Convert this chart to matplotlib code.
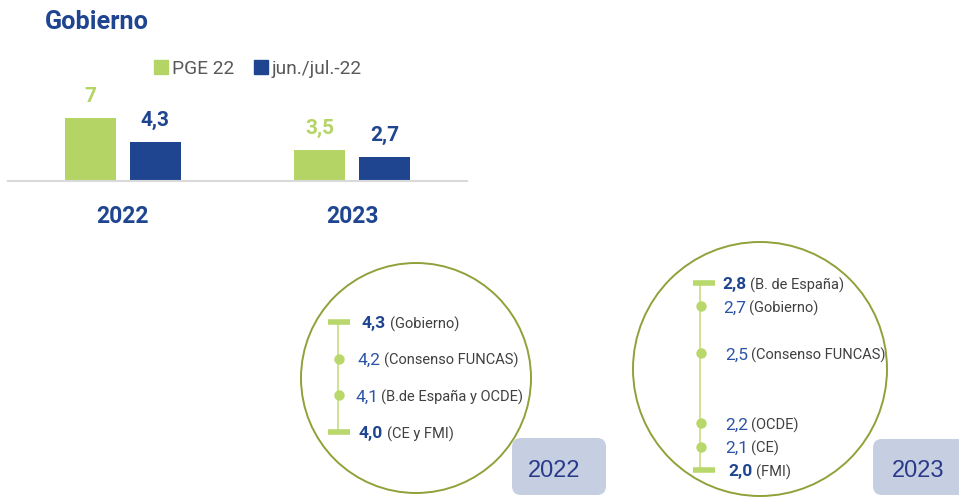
import matplotlib
matplotlib.use("Agg")
import matplotlib.pyplot as plt
from matplotlib.patches import Circle, FancyBboxPatch, Patch

plt.rcParams['font.family'] = ['Roboto', 'DejaVu Sans']

# ---------------- data ----------------
categories = ['2022', '2023']
pge22 = [7, 3.5]
junjul22 = [4.3, 2.7]
series_names = ['PGE 22', 'jun./jul.-22']

f2022_values = [4.3, 4.2, 4.1, 4.0]
f2022_sources = ['Gobierno', 'Consenso FUNCAS', 'B.de España y OCDE', 'CE y FMI']
f2023_values = [2.8, 2.7, 2.5, 2.2, 2.1, 2.0]
f2023_sources = ['B. de España', 'Gobierno', 'Consenso FUNCAS', 'OCDE', 'CE', 'FMI']

# ---------------- styles ----------------
W, H = 959, 497
GREEN = '#B4D466'
BLUE = '#1F4591'
NUM_BLUE = '#2C54A6'
GRAY = '#404040'
CIRCLE_C = '#8FA23A'
WH_GREEN = '#B9D86C'
WH_LINE = '#CFE393'
BOX_C = '#C6CFE2'
BOX_TXT = '#2A3A8A'


def fmt_bar(v):
    return str(int(v)) if float(v).is_integer() else f"{v:.1f}".replace('.', ',')


def fmt1(v):
    return f"{v:.1f}".replace('.', ',')


def fx(px):
    return px / W


def fy(py):
    return 1 - py / H


fig = plt.figure(figsize=(W / 100, H / 100), dpi=100)

# overlay axes in pixel coordinates for decorations
ov = fig.add_axes([0, 0, 1, 1])
ov.set_xlim(0, W)
ov.set_ylim(H, 0)
ov.axis('off')

# title
fig.text(fx(45), fy(22), 'Gobierno', fontsize=18.2, fontweight='bold',
         color=BLUE, va='center', ha='left')

# ---------------- bar chart ----------------
base_px, top_px = 181, 181 - 9 * 8
axb = fig.add_axes([fx(8), fy(base_px), fx(467) - fx(8), (base_px - top_px) / H])
axb.set_xlim(-0.5, 1.5)
axb.set_ylim(0, 8)
xs = list(range(len(categories)))
bw = 51 / 229
off = 65 / 2 / 229
b1 = axb.bar([x - off for x in xs], pge22, width=bw, color=GREEN, label=series_names[0])
b2 = axb.bar([x + off for x in xs], junjul22, width=bw, color=BLUE, label=series_names[1])
for bars, vals, col in [(b1, pge22, GREEN), (b2, junjul22, BLUE)]:
    for r, v in zip(bars, vals):
        axb.annotate(fmt_bar(v), (r.get_x() + r.get_width() / 2, v), xytext=(0, 11.5),
                     textcoords='offset points', ha='center', va='baseline',
                     fontsize=15, fontweight='bold', color=col)
for s in ['top', 'right', 'left']:
    axb.spines[s].set_visible(False)
axb.spines['bottom'].set_color('#D9D9D9')
axb.spines['bottom'].set_linewidth(1.5)
axb.set_yticks([])
axb.set_xticks(xs)
axb.set_xticklabels(categories, fontsize=16.5, fontweight='bold', color=BLUE)
axb.tick_params(axis='x', length=0, pad=17)
axb.patch.set_alpha(0)

fig.legend(handles=[Patch(color=GREEN, label=series_names[0]),
                    Patch(color=BLUE, label=series_names[1])],
           loc='center left', bbox_to_anchor=(fx(154), fy(69)), ncol=2,
           frameon=False, fontsize=13.8, handlelength=0.75, handleheight=0.75,
           handletextpad=0.2, columnspacing=1.0, labelcolor='#595959',
           borderaxespad=0, borderpad=0)

# ---------------- circles and boxes ----------------
ov.add_patch(Circle((416, 378), 115, fill=False, ec=CIRCLE_C, lw=1.4))
ov.add_patch(Circle((760, 369), 127, fill=False, ec=CIRCLE_C, lw=1.4))
ov.add_patch(FancyBboxPatch((512, 438), 94, 57, boxstyle='round,pad=0,rounding_size=9',
                            fc=BOX_C, ec='none'))
ov.add_patch(FancyBboxPatch((873, 439), 110, 56, boxstyle='round,pad=0,rounding_size=9',
                            fc=BOX_C, ec='none'))
ov.text(554, 471, categories[0], fontsize=17, color=BOX_TXT, ha='center', va='center',
        family=['Liberation Sans', 'DejaVu Sans'])
ov.text(918, 471, categories[1], fontsize=17, color=BOX_TXT, ha='center', va='center',
        family=['Liberation Sans', 'DejaVu Sans'])


# ---------------- whiskers ----------------
def whisker(values, sources, y_top, y_bot, x_line, x_cap, label_x):
    vmax, vmin = max(values), min(values)
    ax = fig.add_axes([0, fy(y_bot), 1, (y_bot - y_top) / H])
    ax.set_xlim(0, W)
    ax.set_ylim(vmin, vmax)
    ax.axis('off')
    ax.vlines(x_line, vmin, vmax, color=WH_LINE, lw=1.4, zorder=1)
    ends = [v for v in values if v in (vmin, vmax)]
    mids = [v for v in values if v not in (vmin, vmax)]
    ax.plot([x_cap] * len(ends), ends, ls='none', marker='_', ms=16,
            mew=4.0, color=WH_GREEN, clip_on=False, zorder=2)
    ax.plot([x_line + 1] * len(mids), mids, ls='none', marker='o', ms=7.5,
            color=WH_GREEN, mec='none', clip_on=False, zorder=2)
    for v, s, lx in zip(values, sources, label_x):
        bold = v in (vmin, vmax)
        t = ax.annotate(fmt1(v), (lx, v), xytext=(0, -4.6), textcoords='offset points',
                        ha='left', va='baseline', fontsize=12.5,
                        fontweight='bold' if bold else 'normal',
                        color=BLUE if bold else NUM_BLUE, annotation_clip=False)
        ax.annotate(f'({s})', xy=(1, v), xycoords=(t, 'data'), xytext=(2.5, -4.6),
                    textcoords='offset points', ha='left', va='baseline',
                    fontsize=10.5, color=GRAY, annotation_clip=False)


whisker(f2022_values, f2022_sources, 322, 432, 338, 339, [362, 358, 355, 359])
whisker(f2023_values, f2023_sources, 283, 470, 700, 704, [722, 723, 725, 725, 725, 728])

fig.savefig('out.png', dpi=100)
